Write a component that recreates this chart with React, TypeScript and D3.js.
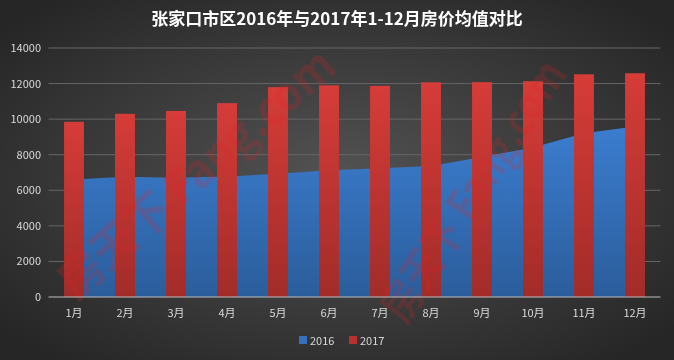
import React from 'react';
import * as d3 from 'd3';

const months = ['1月', '2月', '3月', '4月', '5月', '6月', '7月', '8月', '9月', '10月', '11月', '12月'];
const price2016 = [6600, 6760, 6700, 6780, 6930, 7130, 7240, 7370, 7870, 8400, 9200, 9580];
const price2017 = [9850, 10300, 10460, 10900, 11800, 11900, 11870, 12070, 12080, 12130, 12520, 12580];
const yTicks = [0, 2000, 4000, 6000, 8000, 10000, 12000, 14000];
const seriesNames = ['2016', '2017'];

const W = 674;
const H = 360;
const margin = { left: 48.5, right: 13.5, top: 48, bottom: 63 };
const font = '"Noto Sans CJK SC", "Noto Sans", sans-serif';

const App: React.FC = () => {
    const x = d3
        .scaleBand<string>()
        .domain(months)
        .range([margin.left, W - margin.right]);
    const y = d3
        .scaleLinear()
        .domain([0, 14000])
        .range([H - margin.bottom, margin.top]);

    const barW = x.bandwidth() * 0.39;
    const cx = (m: string) => (x(m) || 0) + x.bandwidth() / 2;

    const area = d3
        .area<number>()
        .x((_, i) => cx(months[i]))
        .y0(y(0))
        .y1((d) => y(d));

    return (
        <svg
            width={W}
            height={H}
            style={{ position: 'fixed', left: 0, top: 0, display: 'block' }}
        >
            <defs>
                <radialGradient id="bg" cx="50%" cy="50%" r="65%">
                    <stop offset="0%" stopColor="#535353" />
                    <stop offset="100%" stopColor="#262626" />
                </radialGradient>
                <linearGradient id="barFill" x1="0" y1="0" x2="0" y2="1">
                    <stop offset="0%" stopColor="#d63c38" />
                    <stop offset="100%" stopColor="#a22c29" />
                </linearGradient>
                <linearGradient id="areaFill" x1="0" y1="0" x2="0" y2="1">
                    <stop offset="0%" stopColor="#3b7dcf" />
                    <stop offset="100%" stopColor="#2b5d9b" />
                </linearGradient>
            </defs>
            <rect width={W} height={H} fill="url(#bg)" />

            {/* 标题 */}
            <text
                x={W / 2}
                y={25}
                textAnchor="middle"
                fill="#ffffff"
                fontFamily={font}
                fontWeight="bold"
                fontSize={17}
            >
                张家口市区2016年与2017年1-12月房价均值对比
            </text>

            {/* 网格线 */}
            {yTicks.slice(1).map((t) => (
                <line
                    key={t}
                    x1={margin.left}
                    x2={W - margin.right}
                    y1={y(t)}
                    y2={y(t)}
                    stroke="#666"
                    strokeWidth={1}
                />
            ))}

            {/* Y轴标签 */}
            {yTicks.map((t) => (
                <text
                    key={t}
                    x={41}
                    y={y(t) + 4}
                    textAnchor="end"
                    fill="#d9d9d9"
                    fontFamily={font}
                    fontSize={11}
                >
                    {t}
                </text>
            ))}

            {/* 2016 面积 */}
            <path d={area(price2016) || ''} fill="url(#areaFill)" />

            {/* 2017 柱形 */}
            {price2017.map((v, i) => (
                <rect
                    key={i}
                    x={cx(months[i]) - barW / 2}
                    y={y(v)}
                    width={barW}
                    height={y(0) - y(v)}
                    fill="url(#barFill)"
                />
            ))}

            {/* 水印 */}
            <g opacity={0.2} fontFamily={font} fontWeight="bold" fill="#e0262a">
                <text
                    transform="translate(75,300) rotate(-41)"
                    fontSize={46}
                    textLength={350}
                    lengthAdjust="spacingAndGlyphs"
                >
                    房天下 Fang.com
                </text>
                <text
                    transform="translate(405,325) rotate(-57)"
                    fontSize={44}
                    textLength={300}
                    lengthAdjust="spacingAndGlyphs"
                >
                    房天下 Fang.com
                </text>
            </g>

            {/* X轴 */}
            <line
                x1={margin.left}
                x2={W - margin.right}
                y1={y(0)}
                y2={y(0)}
                stroke="#bfbfbf"
                strokeWidth={1}
            />
            {months.map((m) => (
                <text
                    key={m}
                    x={cx(m)}
                    y={317}
                    textAnchor="middle"
                    fill="#d9d9d9"
                    fontFamily={font}
                    fontSize={11}
                >
                    {m}
                </text>
            ))}

            {/* 图例 */}
            {seriesNames.map((s, i) => (
                <g key={s} transform={`translate(${299 + i * 50},336)`}>
                    <rect
                        width={8}
                        height={8}
                        fill={i === 0 ? '#3570bd' : '#b8312e'}
                    />
                    <text
                        x={11}
                        y={8.5}
                        fill="#d9d9d9"
                        fontFamily={font}
                        fontSize={11}
                    >
                        {s}
                    </text>
                </g>
            ))}
        </svg>
    );
};

export default App;
